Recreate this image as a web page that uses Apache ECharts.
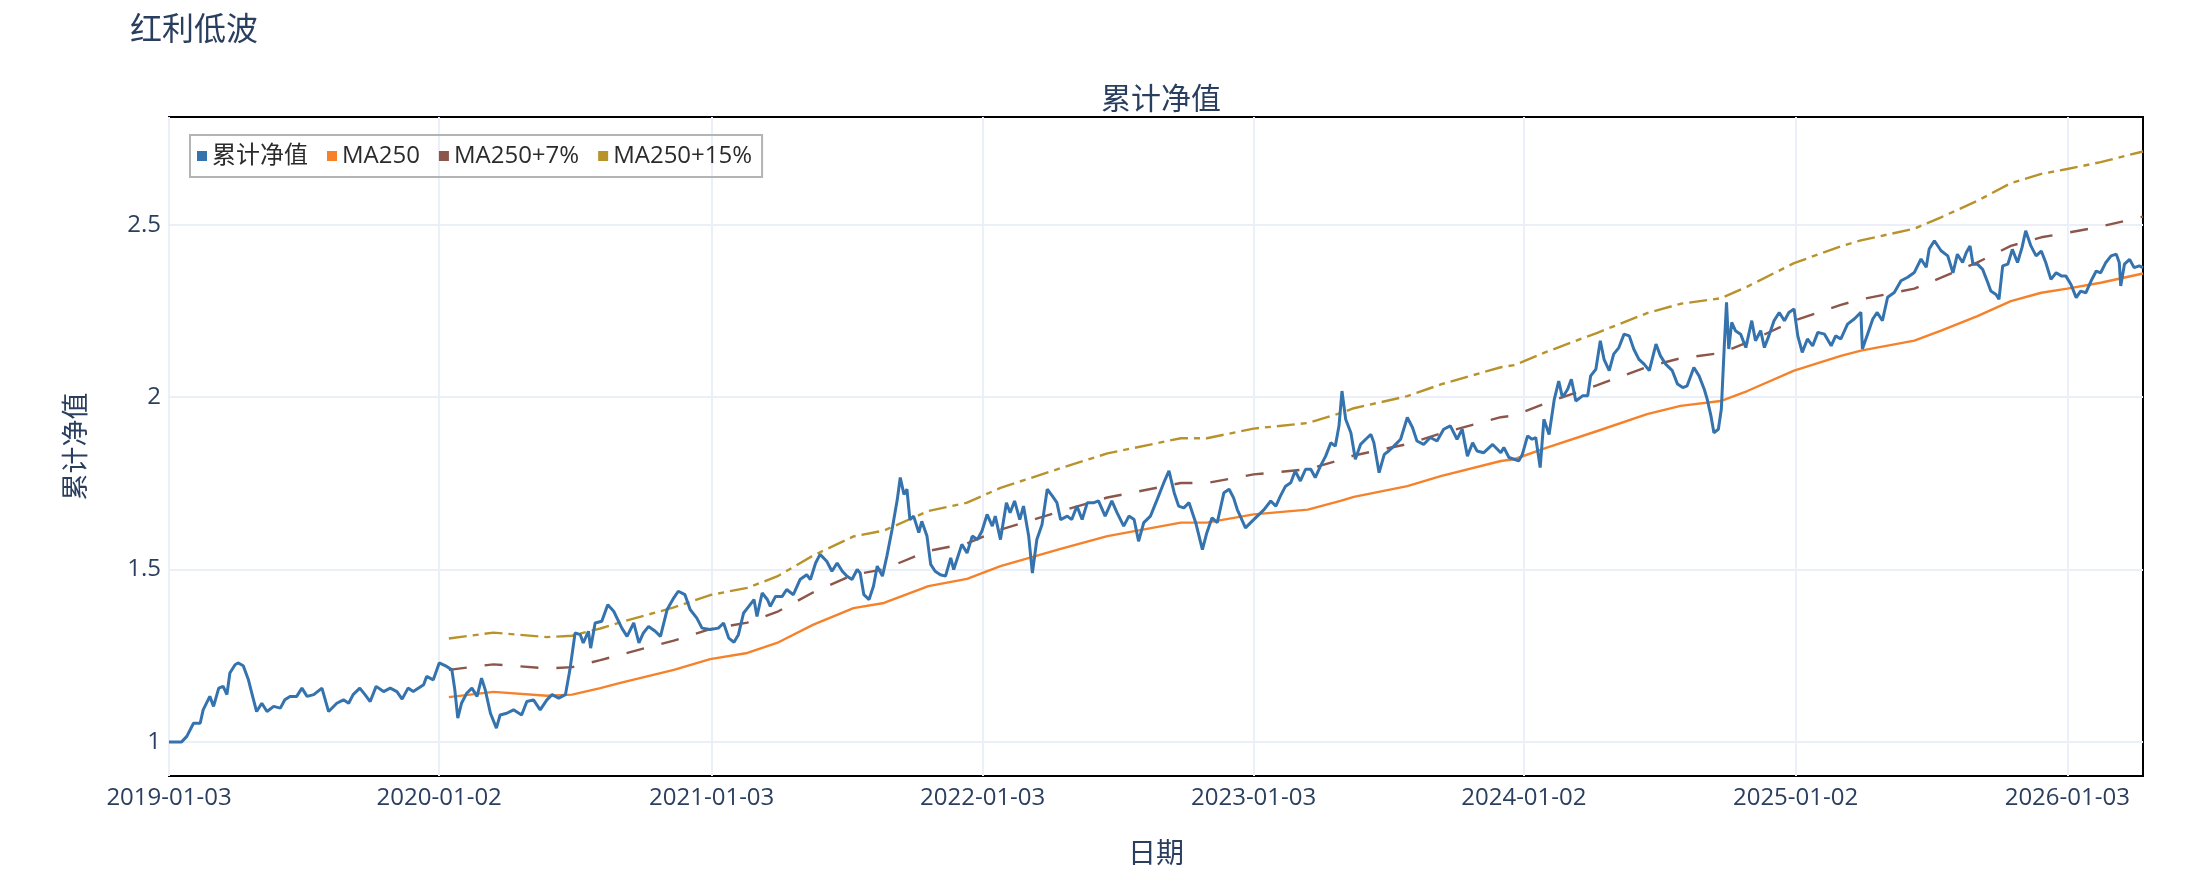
<!DOCTYPE html>
<html>
<head>
<meta charset="utf-8">
<title>红利低波</title>
<script src="https://cdn.jsdelivr.net/npm/echarts@6/dist/echarts.min.js"></script>
<style>
  html, body { margin: 0; padding: 0; background: #fff; }
  #chart { width: 2208px; height: 878px; }
</style>
</head>
<body>
<div id="chart"></div>
<script>
// 累计净值 (roughly weekly-biweekly samples)
const navDates = [
  '2019-01-03','2019-01-20','2019-01-27','2019-02-05','2019-02-14','2019-02-18','2019-02-27','2019-03-04','2019-03-11','2019-03-17',
  '2019-03-22','2019-03-26','2019-04-02','2019-04-06','2019-04-13','2019-04-20','2019-04-24','2019-05-01','2019-05-08','2019-05-15',
  '2019-05-24','2019-06-02','2019-06-08','2019-06-15','2019-06-24','2019-07-01','2019-07-08','2019-07-17','2019-07-28','2019-08-06',
  '2019-08-17','2019-08-26','2019-09-02','2019-09-08','2019-09-17','2019-09-24','2019-10-01','2019-10-09','2019-10-19','2019-10-28',
  '2019-11-06','2019-11-13','2019-11-21','2019-11-28','2019-12-12','2019-12-16','2019-12-25','2020-01-02','2020-01-12','2020-01-19',
  '2020-01-23','2020-01-27','2020-02-01','2020-02-08','2020-02-15','2020-02-22','2020-02-28','2020-03-04','2020-03-11','2020-03-19',
  '2020-03-24','2020-04-02','2020-04-11','2020-04-22','2020-04-29','2020-05-08','2020-05-17','2020-05-26','2020-06-02','2020-06-11',
  '2020-06-20','2020-06-26','2020-07-03','2020-07-10','2020-07-14','2020-07-21','2020-07-24','2020-07-30','2020-08-08','2020-08-16',
  '2020-08-24','2020-09-04','2020-09-11','2020-09-20','2020-09-27','2020-10-03','2020-10-10','2020-10-19','2020-10-26','2020-11-04',
  '2020-11-13','2020-11-19','2020-11-28','2020-12-05','2020-12-14','2020-12-21','2021-01-01','2021-01-12','2021-01-19','2021-01-26',
  '2021-02-02','2021-02-08','2021-02-15','2021-02-22','2021-03-01','2021-03-05','2021-03-12','2021-03-19','2021-03-23','2021-03-30',
  '2021-04-08','2021-04-14','2021-04-23','2021-05-02','2021-05-11','2021-05-16','2021-05-23','2021-05-29','2021-06-07','2021-06-14',
  '2021-06-21','2021-06-28','2021-07-04','2021-07-11','2021-07-18','2021-07-22','2021-07-27','2021-08-03','2021-08-09','2021-08-14',
  '2021-08-21','2021-08-27','2021-09-03','2021-09-10','2021-09-14','2021-09-19','2021-09-23','2021-09-27','2021-10-02','2021-10-09',
  '2021-10-13','2021-10-20','2021-10-25','2021-10-31','2021-11-07','2021-11-14','2021-11-21','2021-11-25','2021-12-06','2021-12-13',
  '2021-12-20','2021-12-27','2022-01-02','2022-01-09','2022-01-16','2022-01-20','2022-01-27','2022-02-04','2022-02-09','2022-02-15',
  '2022-02-22','2022-02-27','2022-03-06','2022-03-11','2022-03-17','2022-03-24','2022-03-31','2022-04-07','2022-04-13','2022-04-18',
  '2022-04-27','2022-05-03','2022-05-10','2022-05-17','2022-05-24','2022-06-02','2022-06-08','2022-06-17','2022-06-26','2022-07-03',
  '2022-07-12','2022-07-19','2022-07-26','2022-08-01','2022-08-08','2022-08-17','2022-08-26','2022-09-04','2022-09-11','2022-09-18',
  '2022-09-24','2022-10-01','2022-10-08','2022-10-17','2022-10-26','2022-11-01','2022-11-08','2022-11-15','2022-11-24','2022-12-01',
  '2022-12-07','2022-12-12','2022-12-16','2022-12-23','2022-12-30','2023-01-08','2023-01-17','2023-01-26','2023-02-02','2023-02-08',
  '2023-02-15','2023-02-22','2023-02-28','2023-03-07','2023-03-14','2023-03-21','2023-03-27','2023-04-03','2023-04-10','2023-04-17',
  '2023-04-23','2023-04-28','2023-05-02','2023-05-07','2023-05-14','2023-05-20','2023-05-27','2023-06-03','2023-06-10','2023-06-14',
  '2023-06-21','2023-06-28','2023-07-04','2023-07-11','2023-07-20','2023-07-29','2023-08-05','2023-08-11','2023-08-20','2023-08-29',
  '2023-09-07','2023-09-16','2023-09-25','2023-10-04','2023-10-11','2023-10-18','2023-10-25','2023-10-31','2023-11-09','2023-11-21',
  '2023-12-02','2023-12-06','2023-12-13','2023-12-20','2023-12-26','2023-12-31','2024-01-07','2024-01-13','2024-01-18','2024-01-24',
  '2024-01-29','2024-02-05','2024-02-12','2024-02-18','2024-02-23','2024-03-01','2024-03-06','2024-03-12','2024-03-21','2024-03-28',
  '2024-04-01','2024-04-08','2024-04-14','2024-04-19','2024-04-26','2024-05-02','2024-05-09','2024-05-16','2024-05-23','2024-05-29',
  '2024-06-05','2024-06-12','2024-06-19','2024-06-28','2024-07-04','2024-07-11','2024-07-20','2024-07-27','2024-08-03','2024-08-09',
  '2024-08-18','2024-08-25','2024-09-01','2024-09-05','2024-09-10','2024-09-14','2024-09-20','2024-09-24','2024-09-28','2024-10-01',
  '2024-10-04','2024-10-08','2024-10-13','2024-10-20','2024-10-27','2024-11-04','2024-11-09','2024-11-16','2024-11-21','2024-11-27',
  '2024-12-04','2024-12-11','2024-12-18','2024-12-24','2024-12-31','2025-01-05','2025-01-11','2025-01-18','2025-01-25','2025-02-01',
  '2025-02-10','2025-02-19','2025-02-25','2025-03-04','2025-03-13','2025-03-22','2025-03-31','2025-04-02','2025-04-09','2025-04-16',
  '2025-04-22','2025-04-29','2025-05-06','2025-05-15','2025-05-24','2025-06-02','2025-06-11','2025-06-20','2025-06-27','2025-07-01',
  '2025-07-08','2025-07-17','2025-07-26','2025-08-02','2025-08-08','2025-08-15','2025-08-20','2025-08-25','2025-08-29','2025-09-04',
  '2025-09-11','2025-09-18','2025-09-22','2025-09-29','2025-10-03','2025-10-08','2025-10-15','2025-10-21','2025-10-28','2025-11-03',
  '2025-11-08','2025-11-15','2025-11-22','2025-11-29','2025-12-05','2025-12-12','2025-12-19','2025-12-26','2026-01-01','2026-01-08',
  '2026-01-15','2026-01-21','2026-01-28','2026-02-04','2026-02-11','2026-02-17','2026-02-24','2026-03-03','2026-03-10','2026-03-14',
  '2026-03-16','2026-03-21','2026-03-28','2026-04-03','2026-04-10','2026-04-15'
];
const navValues = [
  1.000,1.000,1.016,1.054,1.054,1.093,1.132,1.103,1.156,1.161,
  1.137,1.200,1.224,1.229,1.221,1.180,1.146,1.088,1.112,1.088,
  1.103,1.098,1.122,1.132,1.132,1.156,1.132,1.137,1.156,1.088,
  1.112,1.122,1.112,1.137,1.156,1.137,1.117,1.161,1.146,1.156,
  1.146,1.124,1.156,1.146,1.166,1.190,1.180,1.229,1.219,1.209,
  1.151,1.069,1.112,1.141,1.156,1.132,1.185,1.151,1.083,1.040,
  1.078,1.083,1.093,1.078,1.117,1.122,1.093,1.122,1.137,1.127,
  1.137,1.209,1.316,1.311,1.287,1.321,1.272,1.345,1.350,1.398,
  1.379,1.330,1.306,1.345,1.287,1.316,1.335,1.321,1.306,1.384,
  1.418,1.437,1.427,1.384,1.359,1.330,1.326,1.330,1.345,1.301,
  1.289,1.311,1.374,1.393,1.413,1.364,1.432,1.413,1.393,1.422,
  1.422,1.442,1.427,1.471,1.485,1.471,1.519,1.544,1.524,1.495,
  1.519,1.495,1.481,1.471,1.500,1.490,1.427,1.413,1.452,1.510,
  1.481,1.539,1.616,1.703,1.767,1.718,1.733,1.645,1.655,1.607,
  1.640,1.597,1.515,1.495,1.485,1.481,1.534,1.500,1.573,1.548,
  1.597,1.587,1.611,1.660,1.626,1.655,1.587,1.694,1.665,1.699,
  1.645,1.684,1.597,1.490,1.587,1.631,1.733,1.713,1.694,1.645,
  1.655,1.645,1.684,1.645,1.694,1.694,1.699,1.655,1.699,1.665,
  1.626,1.655,1.645,1.582,1.636,1.655,1.703,1.752,1.786,1.723,
  1.684,1.679,1.694,1.636,1.558,1.607,1.650,1.636,1.723,1.733,
  1.708,1.674,1.655,1.621,1.636,1.655,1.674,1.699,1.684,1.713,
  1.742,1.752,1.786,1.757,1.791,1.791,1.767,1.800,1.829,1.868,
  1.858,1.917,2.018,1.936,1.897,1.820,1.863,1.878,1.892,1.868,
  1.781,1.834,1.844,1.858,1.878,1.941,1.912,1.873,1.863,1.883,
  1.873,1.907,1.917,1.878,1.907,1.829,1.868,1.844,1.839,1.863,
  1.839,1.854,1.825,1.820,1.815,1.834,1.888,1.878,1.883,1.796,
  1.936,1.892,1.994,2.047,1.999,2.023,2.052,1.989,2.004,2.004,
  2.062,2.081,2.164,2.110,2.077,2.125,2.144,2.183,2.178,2.140,
  2.110,2.096,2.077,2.154,2.120,2.096,2.077,2.038,2.028,2.033,
  2.086,2.062,2.023,1.994,1.946,1.897,1.907,1.965,2.149,2.275,
  2.140,2.217,2.193,2.183,2.144,2.222,2.164,2.193,2.144,2.178,
  2.222,2.246,2.222,2.246,2.256,2.178,2.130,2.169,2.149,2.188,
  2.183,2.149,2.178,2.169,2.212,2.227,2.246,2.140,2.183,2.227,
  2.246,2.222,2.290,2.304,2.338,2.348,2.362,2.401,2.377,2.430,
  2.454,2.425,2.410,2.361,2.415,2.391,2.420,2.439,2.386,2.386,
  2.371,2.332,2.308,2.298,2.284,2.381,2.386,2.429,2.391,2.434,
  2.483,2.439,2.410,2.424,2.391,2.342,2.361,2.352,2.352,2.327,
  2.289,2.308,2.303,2.337,2.366,2.361,2.391,2.410,2.415,2.391,
  2.323,2.386,2.400,2.376,2.381,2.376
];

// MA250 and its bands
const maDates = [
  '2020-01-15','2020-03-15','2020-05-26','2020-06-29','2020-08-06','2020-09-02','2020-11-13','2021-01-01','2021-02-20','2021-04-01',
  '2021-05-20','2021-07-13','2021-08-23','2021-10-22','2021-12-13','2022-01-27','2022-04-18','2022-06-20','2022-09-27','2022-11-01',
  '2023-01-03','2023-03-17','2023-04-30','2023-05-18','2023-07-29','2023-09-12','2023-12-02','2023-12-20','2024-02-02','2024-04-10',
  '2024-06-16','2024-07-31','2024-09-23','2024-10-29','2024-12-31','2025-03-04','2025-03-31','2025-06-11','2025-07-17','2025-09-04',
  '2025-10-19','2025-11-29','2026-01-03','2026-02-17','2026-04-15'
];
const ma250 = [
  1.130,1.145,1.134,1.137,1.156,1.171,1.209,1.240,1.258,1.287,
  1.340,1.388,1.403,1.452,1.473,1.510,1.560,1.597,1.636,1.636,
  1.660,1.674,1.699,1.711,1.742,1.771,1.815,1.820,1.854,1.902,
  1.951,1.975,1.989,2.018,2.077,2.120,2.135,2.164,2.193,2.235,
  2.279,2.303,2.315,2.332,2.359
];
const ma250p7 = [
  1.209,1.225,1.213,1.217,1.237,1.253,1.294,1.327,1.346,1.377,
  1.434,1.485,1.501,1.554,1.576,1.616,1.669,1.709,1.751,1.751,
  1.776,1.791,1.818,1.831,1.864,1.895,1.942,1.947,1.984,2.035,
  2.088,2.113,2.128,2.159,2.222,2.268,2.284,2.315,2.347,2.391,
  2.439,2.464,2.477,2.495,2.524
];
const ma250p15 = [
  1.300,1.317,1.304,1.308,1.329,1.347,1.390,1.426,1.447,1.480,
  1.541,1.596,1.613,1.670,1.694,1.737,1.794,1.837,1.881,1.881,
  1.909,1.925,1.954,1.968,2.003,2.037,2.087,2.093,2.132,2.187,
  2.244,2.271,2.287,2.321,2.389,2.438,2.455,2.489,2.522,2.570,
  2.621,2.648,2.662,2.682,2.713
];

const xTickLabels = ['2019-01-03','2020-01-02','2021-01-03','2022-01-03','2023-01-03','2024-01-02','2025-01-02','2026-01-03'];
const yTickValues = [1, 1.5, 2, 2.5];

const seriesNames = ['累计净值', 'MA250', 'MA250+7%', 'MA250+15%'];
const seriesColors = ['#3473ad', '#f5822a', '#8c564b', '#b8922a'];

// dates -> day timestamps (UTC, so no timezone drift)
const ts = s => {
    const [y, m, d] = s.split('-').map(Number);
    return Date.UTC(y, m - 1, d);
};
const pairs = (dates, vals) => dates.map((d, i) => [ts(d), vals[i]]);

const textColor = '#2a3f5f';
const font = "'Open Sans', 'Noto Sans CJK SC', sans-serif";

const xTicks = xTickLabels.map(ts);
const labelByTs = {};
xTickLabels.forEach((s, i) => { labelByTs[xTicks[i]] = s; });

const chart = echarts.init(document.getElementById('chart'));

const option = {
    animation: false,
    backgroundColor: '#fff',
    textStyle: { fontFamily: font, color: textColor },
    title: [
        {
            text: '红利低波',
            left: 125,
            top: 10,
            textStyle: { fontSize: 32, fontWeight: 'normal', color: textColor, fontFamily: font }
        },
        {
            text: '累计净值',
            left: 1156,
            textAlign: 'center',
            top: 80,
            textStyle: { fontSize: 30, fontWeight: 'normal', color: textColor, fontFamily: font }
        }
    ],
    legend: {
        left: 190,
        top: 135,
        orient: 'horizontal',
        icon: 'rect',
        itemWidth: 10,
        itemHeight: 10,
        itemGap: 19,
        padding: [9, 10, 9, 7],
        borderColor: '#b4b4b4',
        borderWidth: 2,
        textStyle: { fontSize: 24, color: '#2b2b2b', fontFamily: font },
        data: seriesNames
    },
    grid: {
        left: 169,
        top: 117,
        width: 1974,
        height: 659,
        show: true,
        borderColor: '#000',
        borderWidth: 2,
        backgroundColor: '#fff'
    },
    xAxis: {
        type: 'value',
        min: ts('2019-01-03'),
        max: ts('2026-04-15'),
        name: '日期',
        nameLocation: 'middle',
        nameGap: 65,
        nameTextStyle: { fontSize: 28, color: textColor, fontFamily: font },
        axisLine: { show: false },
        axisTick: { show: false, customValues: xTicks },
        axisLabel: {
            customValues: xTicks,
            fontSize: 24,
            color: textColor,
            margin: 10,
            formatter: v => labelByTs[v] || ''
        },
        splitLine: { show: true, lineStyle: { color: '#ebf0f8', width: 2 } }
    },
    yAxis: {
        type: 'value',
        min: 0.901,
        max: 2.813,
        name: '累计净值',
        nameLocation: 'middle',
        nameRotate: 90,
        nameGap: 78,
        nameTextStyle: { fontSize: 27, color: textColor, fontFamily: font },
        axisLine: { show: false },
        axisTick: { show: false, customValues: yTickValues },
        axisLabel: {
            customValues: yTickValues,
            fontSize: 24,
            color: textColor,
            margin: 8,
            formatter: v => String(v)
        },
        splitLine: { show: true, lineStyle: { color: '#ebf0f8', width: 2 } }
    },
    series: [
        {
            name: seriesNames[0],
            type: 'line',
            data: pairs(navDates, navValues),
            showSymbol: false,
            symbol: 'none',
            color: seriesColors[0],
            lineStyle: { width: 3, color: seriesColors[0] },
            z: 5
        },
        {
            name: seriesNames[1],
            type: 'line',
            data: pairs(maDates, ma250),
            showSymbol: false,
            symbol: 'none',
            color: seriesColors[1],
            lineStyle: { width: 2.4, color: seriesColors[1] },
            z: 4
        },
        {
            name: seriesNames[2],
            type: 'line',
            data: pairs(maDates, ma250p7),
            showSymbol: false,
            symbol: 'none',
            color: seriesColors[2],
            lineStyle: { width: 2.4, color: seriesColors[2], type: [18, 18] },
            z: 3
        },
        {
            name: seriesNames[3],
            type: 'line',
            data: pairs(maDates, ma250p15),
            showSymbol: false,
            symbol: 'none',
            color: seriesColors[3],
            lineStyle: { width: 2.4, color: seriesColors[3], type: [18, 6, 6, 6] },
            z: 3
        }
    ]
};

chart.setOption(option);
window.addEventListener('resize', () => chart.resize());
</script>
</body>
</html>
